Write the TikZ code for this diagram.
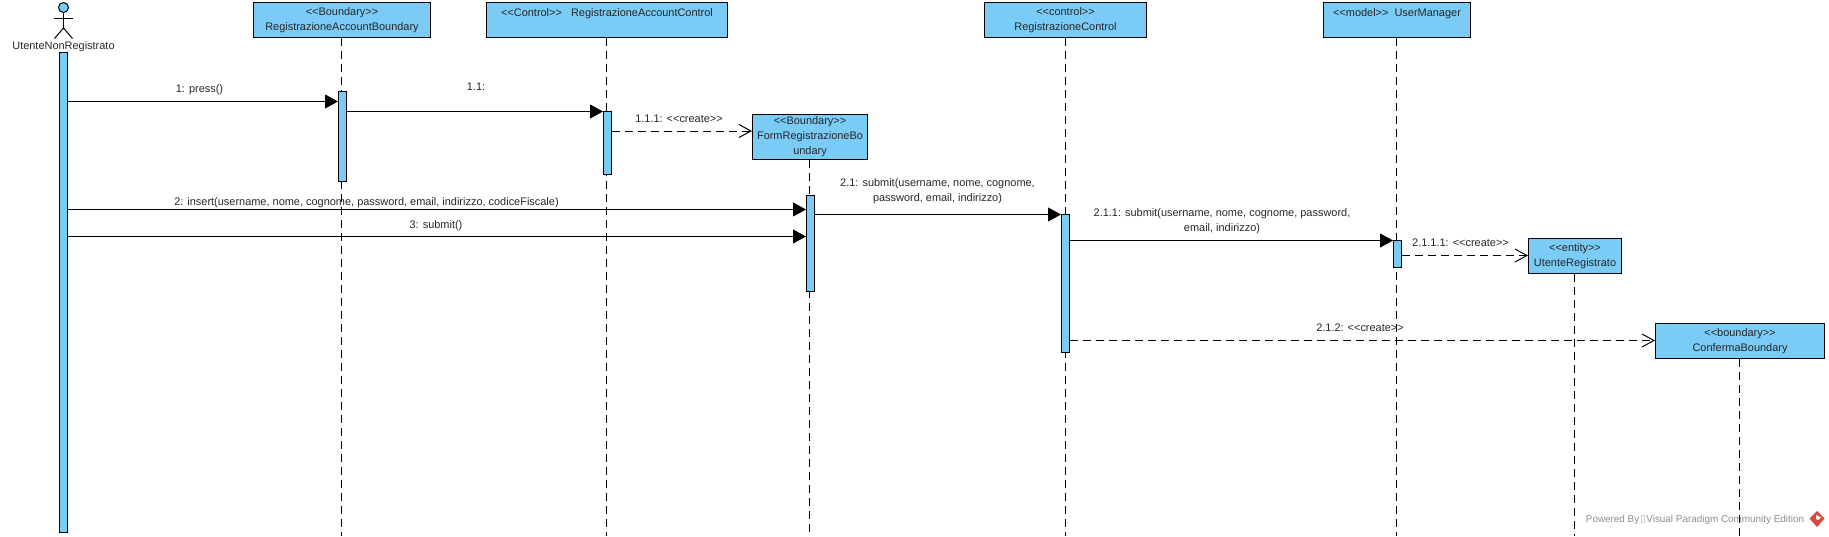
\documentclass[tikz,border=0pt]{standalone}
\usepackage{fontspec}
\setmainfont{Liberation Sans}
\usetikzlibrary{arrows.meta}
\definecolor{vpblue}{HTML}{7ACBF5}
\definecolor{vptext}{HTML}{262626}
\definecolor{vpgrey}{HTML}{8C8C8C}
\definecolor{vpred}{HTML}{D8453C}
\newcommand{\lifeobj}[5]{\node[objbox,minimum width=#3 pt,minimum height=#4 pt] (#1) at (#2) {#5};}
\tikzset{
  x=1pt,y=-1pt,
  txt/.style={font=\fontsize{10.95}{15}\selectfont,text=vptext,align=center,inner sep=0pt},
  objbox/.style={txt,draw=black,fill=vpblue,line width=1pt,inner sep=0pt,execute at begin node=\rule{0pt}{11pt}},
  actbar/.style={draw=black,fill=vpblue,line width=1pt,minimum width=8pt,inner sep=0pt},
  lifeline/.style={draw=black,line width=1pt,dash pattern=on 8pt off 5pt},
  syncmsg/.style={draw=black,line width=1pt,-{Triangle[length=13pt,width=14pt,fill=black]}},
  createmsg/.style={draw=black,line width=1pt,dash pattern=on 8pt off 5pt,-{Straight Barb[length=12pt,width=13pt,line width=1pt]}},
  msglabel/.style={txt,yshift=-1pt},
  actorline/.style={draw=black,line width=1pt},
}
\begin{document}
\begin{tikzpicture}
\useasboundingbox (0,0) rectangle (1829,536);
\coordinate (end) at (0,536);
% actor
\node[circle,draw=black,fill=vpblue,line width=1pt,minimum size=10pt,inner sep=0pt] (head) at (63.5,7.5) {};
\coordinate (hip) at (63.5,28);
\coordinate (armL) at (54,18);
\coordinate (armR) at (73,18);
\coordinate (footL) at (54.5,38.5);
\coordinate (footR) at (72.5,38.5);
\draw[actorline] (head) -- (hip);
\draw[actorline] (armL) -- (armR);
\draw[actorline] (footL) -- (hip) -- (footR);
\node[msglabel] (actor) at (63.5,45.5) {UtenteNonRegistrato};
% objects
\lifeobj{bA}{342,19.75}{177}{34.5}{<{}<Boundary>{}>\\RegistrazioneAccountBoundary}
\lifeobj{bB}{607,19.75}{241}{34.5}{<{}<Control>{}>\ \ \ RegistrazioneAccountControl\\\mbox{}}
\lifeobj{bC}{810,137}{115}{45}{<{}<Boundary>{}>\\FormRegistrazioneBo\\undary}
\lifeobj{bD}{1065.5,19.75}{162}{34.5}{<{}<control>{}>\\RegistrazioneControl}
\lifeobj{bE}{1397,19.75}{147}{34.5}{<{}<model>{}>\ \ UserManager\\\mbox{}}
\lifeobj{bF}{1575,256}{93}{35}{<{}<entity>{}>\\UtenteRegistrato}
\lifeobj{bG}{1740,341}{169}{35}{<{}<boundary>{}>\\ConfermaBoundary}
% lifelines
\foreach \n in {bA,bB,bC,bD,bE,bF,bG} \draw[lifeline] ([xshift=-0.5pt]\n.south) -- ([xshift=-0.5pt]\n.south |- end);
% activations
\node[actbar,minimum height=480pt] (act0) at (63.5,292) {};
\node[actbar,minimum height=90pt] (actA) at (342.5,136) {};
\node[actbar,minimum height=63pt] (actB) at (607.5,143) {};
\node[actbar,minimum height=95.5pt] (actC) at (810.5,243.25) {};
\node[actbar,minimum height=137.5pt] (actD) at (1065.5,283.25) {};
\node[actbar,minimum height=27.5pt] (actE) at (1397.5,253.75) {};
% messages
\draw[syncmsg] (act0.east |- 0,101.5) -- (actA.west |- 0,101.5);
\draw[syncmsg] (actA.east |- 0,111.5) -- (actB.west |- 0,111.5);
\draw[createmsg] (actB.east |- 0,131) -- (bC.west |- 0,131);
\draw[syncmsg] (act0.east |- 0,209.5) -- (actC.west |- 0,209.5);
\draw[syncmsg] (act0.east |- 0,236.5) -- (actC.west |- 0,236.5);
\draw[syncmsg] (actC.east |- 0,214.5) -- (actD.west |- 0,214.5);
\draw[syncmsg] (actD.east |- 0,240.5) -- (actE.west |- 0,240.5);
\draw[createmsg] (actE.east |- 0,255.5) -- (bF.west |- 0,255.5);
\draw[createmsg] (actD.east |- 0,340.5) -- (bG.west |- 0,340.5);
% labels
\node[msglabel] (m1) at (199.5,89) {1: press()};
\node[msglabel] (m11) at (476,85.5) {1.1:};
\node[msglabel] (m111) at (679,118) {1.1.1: <{}<create>{}>};
\node[msglabel] (m2) at (366.5,202) {2: insert(username, nome, cognome, password, email, indirizzo, codiceFiscale)};
\node[msglabel] (m3) at (436,224.5) {3: submit()};
\node[msglabel] (m21) at (937.5,190.5) {2.1: submit(username, nome, cognome,\\password, email, indirizzo)};
\node[msglabel] (m211) at (1222,220.5) {2.1.1: submit(username, nome, cognome, password,\\email, indirizzo)};
\node[msglabel] (m2111) at (1460.5,242) {2.1.1.1: <{}<create>{}>};
\node[msglabel] (m212) at (1360,327) {2.1.2: <{}<create>{}>};
% watermark
\node[txt,text=vpgrey,font=\fontsize{9.9}{12}\selectfont] (wm) at (1695,519.5) {Powered By\,{\color{vpgrey!40}\fboxsep=0pt\fboxrule=0.4pt\fbox{\rule{3pt}{0pt}\rule{0pt}{7pt}}}\,Visual Paradigm Community Edition};
\fill[vpred] (1817,511) -- (1824.5,518.5) -- (1817,527) -- (1809.5,518.5) -- cycle;
\fill[white] (1816,515) -- (1821,517.5) -- (1818,520) -- (1816,519) -- cycle;
\end{tikzpicture}
\end{document}
